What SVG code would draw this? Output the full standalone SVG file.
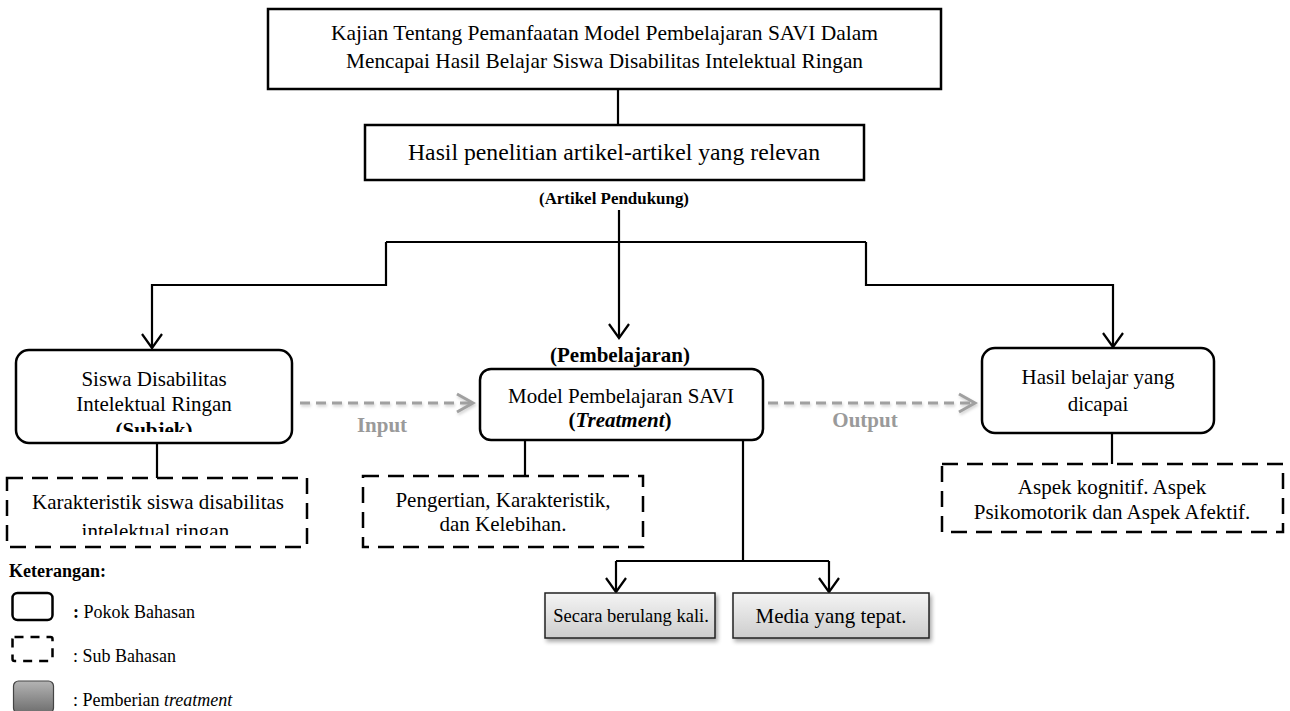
<svg xmlns="http://www.w3.org/2000/svg" width="1290" height="711" viewBox="0 0 1290 711">
<style>
text{font-family:"Liberation Serif","Times New Roman",serif;font-size:21px;fill:#000}
.b{font-weight:bold}
.c{text-anchor:middle}
.solid{fill:#fff;stroke:#000;stroke-width:2.5}
.dash{fill:#fff;stroke:#000;stroke-width:2.5;stroke-dasharray:16 9}
.gbox{fill:url(#lg);stroke:#222;stroke-width:1.5}
.ln{fill:none;stroke:#000;stroke-width:2.2}
.gray{fill:none;stroke:#a0a0a0;stroke-width:3;stroke-dasharray:10 6}
.gt{fill:#9a9a9a;font-weight:bold}
.lgd{font-size:18px}
</style>
<defs>
<linearGradient id="lg" x1="0" y1="0" x2="0" y2="1"><stop offset="0" stop-color="#f4f4f4"/><stop offset="1" stop-color="#cdcdcd"/></linearGradient>
<linearGradient id="lg2" x1="0" y1="0" x2="0" y2="1"><stop offset="0" stop-color="#b4b4b4"/><stop offset="1" stop-color="#6e6e6e"/></linearGradient>
<filter id="sh" x="-10%" y="-10%" width="130%" height="140%"><feGaussianBlur in="SourceAlpha" stdDeviation="2"/><feOffset dx="2" dy="3"/><feComponentTransfer><feFuncA type="linear" slope="0.35"/></feComponentTransfer><feMerge><feMergeNode/><feMergeNode in="SourceGraphic"/></feMerge></filter>
<filter id="gs" filterUnits="userSpaceOnUse" x="0" y="0" width="1290" height="711"><feGaussianBlur in="SourceGraphic" stdDeviation="1.5" result="b"/><feOffset in="b" dx="1" dy="2" result="o"/><feComponentTransfer in="o" result="o2"><feFuncA type="linear" slope="0.5"/></feComponentTransfer><feMerge><feMergeNode in="o2"/><feMergeNode in="SourceGraphic"/></feMerge></filter>
<marker id="ah" markerWidth="18" markerHeight="24" refX="15" refY="11" orient="auto" markerUnits="userSpaceOnUse"><path d="M1,1 L15,11 L1,21" fill="none" stroke="#000" stroke-width="2.2"/></marker>
<marker id="ahg" markerWidth="20" markerHeight="24" refX="17" refY="11" orient="auto" markerUnits="userSpaceOnUse"><path d="M1,2 L17,11 L1,20" fill="none" stroke="#a0a0a0" stroke-width="3"/></marker>
<clipPath id="clipSubjek"><rect x="16" y="350" width="276" height="82"/></clipPath>
<clipPath id="clipKar"><rect x="7" y="478" width="300" height="57"/></clipPath>
</defs>

<g id="connectors">
<path class="ln" d="M618,89 V125" stroke-width="1.6"/>
<path class="ln" d="M619,210 V338" marker-end="url(#ah)"/>
<path class="ln" d="M386,242 H866"/>
<path class="ln" d="M386,242 V285 H152 V348" marker-end="url(#ah)"/>
<path class="ln" d="M866,242 V285 H1113 V347" marker-end="url(#ah)"/>
<path class="ln" d="M157,443 V478"/>
<path class="ln" d="M525,440 V476"/>
<path class="ln" d="M1112,433 V464"/>
<path class="ln" d="M743,440 V561" stroke-width="1.8"/>
<path class="ln" d="M616,561 H829" stroke-width="1.8"/>
<path class="ln" d="M616,561 V592" marker-end="url(#ah)" stroke-width="1.8"/>
<path class="ln" d="M829,561 V592" marker-end="url(#ah)" stroke-width="1.8"/>
<g filter="url(#gs)">
<path class="gray" d="M300,403 H473" marker-end="url(#ahg)"/>
<path class="gray" d="M768,403 H975" marker-end="url(#ahg)"/>
</g>
<text class="gt" x="382" y="432" text-anchor="middle">Input</text>
<text class="gt" x="865" y="427" text-anchor="middle">Output</text>
</g>

<g id="title">
<rect class="solid" x="268" y="9" width="673" height="80"/>
<text class="c" x="604.5" y="40" textLength="547" lengthAdjust="spacingAndGlyphs">Kajian Tentang Pemanfaatan Model Pembelajaran SAVI Dalam</text>
<text class="c" x="604.5" y="68" textLength="517" lengthAdjust="spacingAndGlyphs">Mencapai Hasil Belajar Siswa Disabilitas Intelektual Ringan</text>
</g>

<g id="artikel">
<rect class="solid" x="365" y="125" width="499" height="55"/>
<text class="c" x="614" y="160" style="font-size:23.5px" textLength="412" lengthAdjust="spacingAndGlyphs">Hasil penelitian artikel-artikel yang relevan</text>
<text class="c b" x="614" y="204" style="font-size:16px" textLength="150" lengthAdjust="spacingAndGlyphs">(Artikel Pendukung)</text>
</g>

<g id="subjek">
<rect class="solid" x="16" y="350" width="276" height="93" rx="13"/>
<text class="c" x="154" y="386">Siswa Disabilitas</text>
<text class="c" x="154" y="411">Intelektual Ringan</text>
<text class="c b" x="154" y="437" clip-path="url(#clipSubjek)">(Subjek)</text>
</g>

<g id="pembelajaran">
<text class="c b" x="620" y="362">(Pembelajaran)</text>
<rect class="solid" x="480" y="369" width="283" height="71" rx="11"/>
<text class="c" x="621" y="403">Model Pembelajaran SAVI</text>
<text class="c b" x="620" y="427">(<tspan font-style="italic">Treatment</tspan>)</text>
</g>

<g id="hasil">
<rect class="solid" x="982" y="348" width="232" height="85" rx="13"/>
<text class="c" x="1098" y="384">Hasil belajar yang</text>
<text class="c" x="1098" y="411">dicapai</text>
</g>

<g id="karakteristik">
<rect class="dash" x="7" y="478" width="300" height="69"/>
<text class="c" x="158" y="509">Karakteristik siswa disabilitas</text>
<text class="c" x="158" y="538" clip-path="url(#clipKar)">intelektual ringan.</text>
</g>

<g id="pengertian">
<rect class="dash" x="363" y="476" width="280" height="71"/>
<text class="c" x="503" y="507">Pengertian, Karakteristik,</text>
<text class="c" x="503" y="531">dan Kelebihan.</text>
</g>

<g id="aspek">
<rect class="dash" x="942" y="464" width="341" height="68"/>
<text class="c" x="1112" y="494">Aspek kognitif. Aspek</text>
<text class="c" x="1112" y="519">Psikomotorik dan Aspek Afektif.</text>
</g>

<g id="berulang">
<rect class="gbox" x="545" y="593" width="170" height="45" filter="url(#sh)"/>
<text class="c" x="631" y="622" style="font-size:18.5px">Secara berulang kali.</text>
</g>

<g id="media">
<rect class="gbox" x="733" y="593" width="196" height="45" filter="url(#sh)"/>
<text class="c" x="831" y="623">Media yang tepat.</text>
</g>

<g id="legend">
<text class="b lgd" x="9" y="577">Keterangan:</text>
<rect x="12.5" y="593" width="40" height="27" rx="5" fill="#fff" stroke="#000" stroke-width="2.5"/>
<text class="lgd" x="73" y="618"><tspan font-weight="bold">:</tspan> Pokok Bahasan</text>
<rect x="12.5" y="637" width="40" height="24" rx="2" fill="#fff" stroke="#000" stroke-width="2.5" stroke-dasharray="9 7"/>
<text class="lgd" x="73" y="662">: Sub Bahasan</text>
<rect x="13.5" y="681" width="40" height="32" rx="5" fill="url(#lg2)" stroke="#444" stroke-width="1.2"/>
<text class="lgd" x="73" y="706">: Pemberian <tspan font-style="italic">treatment</tspan></text>
</g>
</svg>
